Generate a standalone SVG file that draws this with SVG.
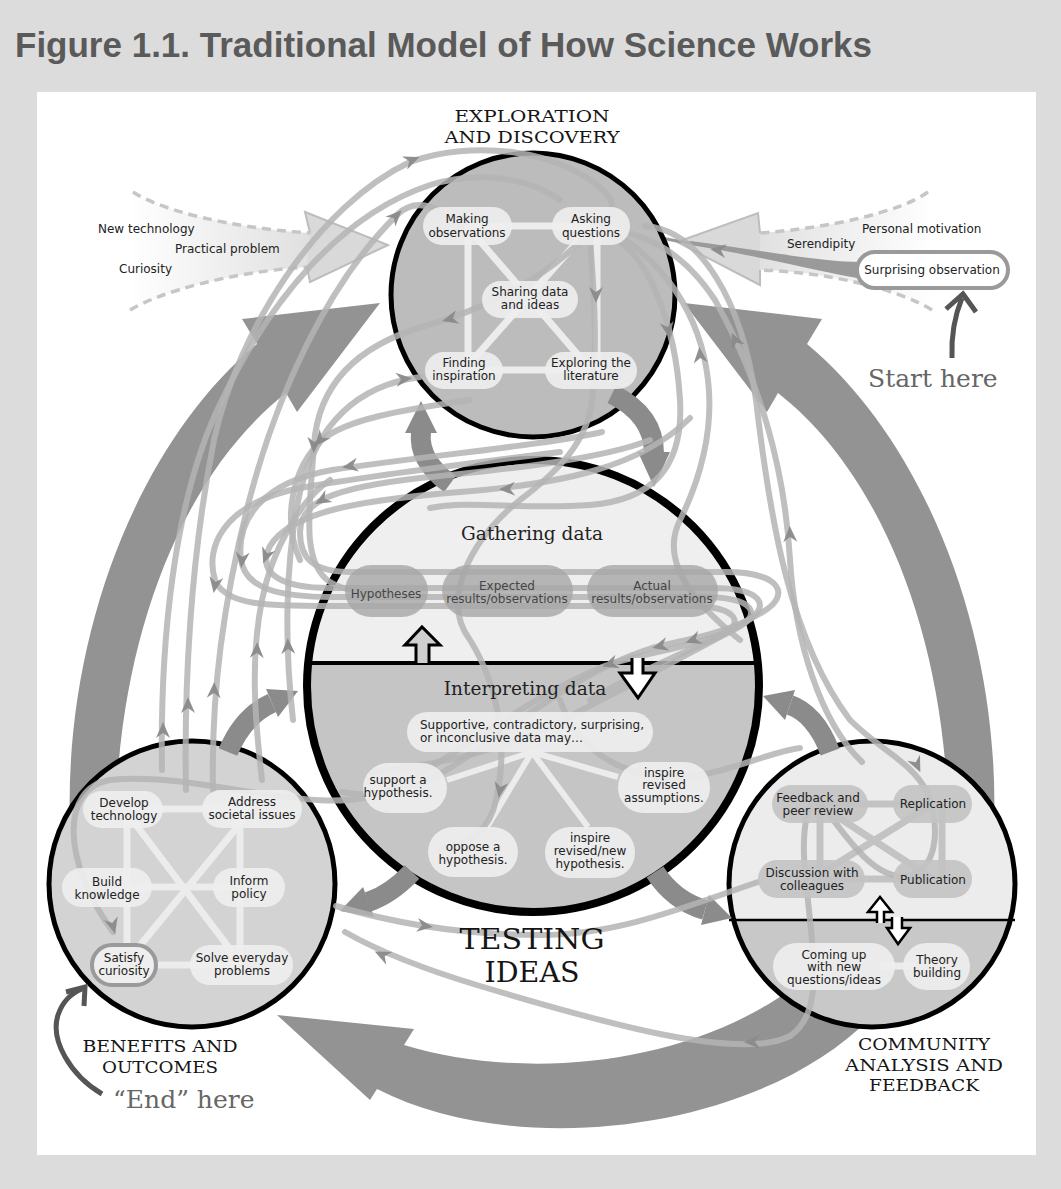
<svg xmlns="http://www.w3.org/2000/svg" width="1061" height="1189" viewBox="0 0 1061 1189">
<defs>
<style>
.title{font-family:"Liberation Sans",Arial,sans-serif;font-weight:bold;font-size:35px;fill:#5a5a5a}
.sec{font-family:"DejaVu Serif",serif;font-size:17.5px;fill:#151515;text-anchor:middle}
.big{font-family:"DejaVu Serif",serif;font-size:28px;fill:#151515;text-anchor:middle}
.sub{font-family:"DejaVu Serif",serif;font-size:18.5px;fill:#222;text-anchor:middle}
.hint{font-family:"DejaVu Serif",serif;font-size:25px;fill:#666}
.t{font-family:"DejaVu Sans",sans-serif;font-size:12px;fill:#222;text-anchor:middle}
.tb{font-family:"DejaVu Sans",sans-serif;font-size:12px;fill:#454545;text-anchor:middle}
.tl{font-family:"DejaVu Sans",sans-serif;font-size:12px;fill:#222}
.pl{fill:#eeeeee;opacity:.9}
.pd{fill:#c3c3c3;opacity:.9}
.pb{fill:#a6a6a6;opacity:.8}
.ln{stroke:#ececec;stroke-width:7;fill:none}
.lnd{stroke:#c3c3c3;stroke-width:7;fill:none}
.ring{fill:none;stroke:#000;stroke-width:5}
.cyc{fill:#939393}
.mid{fill:none;stroke:#8b8b8b;stroke-width:20}
.midh{fill:#8b8b8b}
.flow{fill:none;stroke:#b4b4b4;stroke-width:6;stroke-linecap:round;opacity:.85}
.ah{fill:#8a8a8a;opacity:.95}
.hol{stroke:#000;stroke-width:3;stroke-linejoin:miter}
.dash{fill:none;stroke:#c6c6c6;stroke-width:3.5;stroke-dasharray:9 6}
.barb{fill:#d9d9d9;stroke:#bdbdbd;stroke-width:2}
</style>
<linearGradient id="fanL" x1="130" y1="0" x2="390" y2="0" gradientUnits="userSpaceOnUse"><stop offset="0" stop-color="#ffffff"/><stop offset="1" stop-color="#d2d2d2"/></linearGradient>
<linearGradient id="fanR" x1="935" y1="0" x2="675" y2="0" gradientUnits="userSpaceOnUse"><stop offset="0" stop-color="#ffffff"/><stop offset="1" stop-color="#d2d2d2"/></linearGradient>
<path id="ah" d="M8,0 L-8,-7 L-3,0 L-8,7 Z"/>
<clipPath id="cc"><circle cx="533" cy="686" r="226"/></clipPath>
<clipPath id="rc"><circle cx="872" cy="884" r="143"/></clipPath>
</defs>

<!-- page -->
<rect x="0" y="0" width="1061" height="1189" fill="#dcdcdc"/>
<text class="title" x="15" y="57">Figure 1.1. Traditional Model of How Science Works</text>
<rect x="37" y="92" width="999" height="1063" fill="#ffffff"/>

<!-- incoming influences, left -->
<g id="inputs-left">
<path d="M133,192 C160,210 230,228 310,233 L305,212 L388,245 L310,282 L307,267 C230,272 160,292 130,310 Z" fill="url(#fanL)"/>
<path class="barb" d="M310,233 L305,212 L388,245 L310,282 L307,267"/>
<path class="dash" d="M133,192 C160,210 230,228 310,233"/>
<path class="dash" d="M130,310 C160,292 230,272 307,267"/>
<text class="tl" x="98" y="233">New technology</text>
<text class="tl" x="175" y="253">Practical problem</text>
<text class="tl" x="119" y="273">Curiosity</text>
</g>

<!-- incoming influences, right -->
<g id="inputs-right">
<path d="M928,192 C900,212 830,228 760,233 L758,213 L677,242 L760,285 L760,270 C830,272 900,290 932,310 Z" fill="url(#fanR)"/>
<path class="barb" d="M760,233 L758,213 L677,242 L760,285 L760,270"/>
<path class="dash" d="M928,192 C900,212 830,228 760,233"/>
<path class="dash" d="M932,310 C900,290 830,272 760,270"/>
<path d="M862,262 C820,262 760,250 690,241 L690,245 C760,256 820,272 862,279 Z" fill="#9a9a9a"/>
<path d="M690,243 C668,240 650,236 630,230" fill="none" stroke="#9a9a9a" stroke-width="3"/>
<use href="#ah" class="ah" transform="translate(718,250) rotate(188)"/>
<text class="tl" x="862" y="233">Personal motivation</text>
<text class="tl" x="787" y="248">Serendipity</text>
</g>

<!-- main cycle -->
<g id="cycle">
<path class="cyc" d="M72,860 C55,660 130,450 257,344 L242,319 L380,303 L297,412 L286,393 C175,480 110,660 116,860 Z"/>
<path class="cyc" d="M992,860 C1009,660 934,450 807,344 L822,319 L684,303 L767,412 L778,393 C889,480 954,660 948,860 Z"/>
<path class="cyc" d="M404,1045 C520,1080 680,1068 790,990 L870,1018 C760,1130 520,1162 377,1089 L370,1100 L277,1015 L414,1029 Z"/>
</g>

<!-- stage discs -->
<g id="discs">
<circle cx="533" cy="295" r="142" fill="#bcbcbc"/>
<circle cx="533" cy="686" r="226" fill="#c5c5c5"/>
<rect x="300" y="455" width="470" height="208" fill="#efefef" clip-path="url(#cc)"/>
<line x1="307" y1="663" x2="759" y2="663" stroke="#000" stroke-width="4"/>
<circle cx="192" cy="884" r="143" fill="#d3d3d3"/>
<circle cx="872" cy="884" r="143" fill="#c8c8c8"/>
<rect x="725" y="735" width="295" height="185" fill="#ececec" clip-path="url(#rc)"/>
<line x1="729" y1="920" x2="1015" y2="920" stroke="#000" stroke-width="2.5"/>
<path class="ln" d="M467,226 H591 M468,226 V370 M597,226 V370 M464,370 H591 M467,226 L591,370 M591,226 L464,370"/>
<path class="ln" d="M532,752 L447,780 M532,752 L487,827 M532,752 L588,827 M532,752 L618,777" style="stroke-width:6"/>
<path class="ln" d="M124,809 H252 M127,809 V965 M240,809 V965 M107,887 H249 M124,965 H242 M124,809 L242,965 M252,809 L124,965"/>
<path class="lnd" d="M818,804 H933 M820,804 V879 M942,804 V879 M812,879 H933 M818,804 L933,879 M812,879 L933,804"/>
<path class="ln" d="M880,966 H915"/>
<circle class="ring" cx="533" cy="295" r="142"/>
<circle class="ring" cx="533" cy="686" r="226" style="stroke-width:8"/>
<circle class="ring" cx="192" cy="884" r="143"/>
<circle class="ring" cx="872" cy="884" r="143"/>
</g>

<!-- links between stages -->
<g id="stage-links">
<path class="mid" d="M450,484 C428,468 419,450 421,432"/>
<polygon class="midh" points="405,433 421,401 437,433"/>
<path class="mid" d="M612,394 C640,408 654,428 654,453"/>
<polygon class="midh" points="638,452 654,487 670,452"/>
<path class="mid" d="M412,872 C395,890 380,898 368,902"/>
<polygon class="midh" points="363,887 340,911 374,917"/>
<path class="mid" d="M655,872 C670,895 688,905 705,910"/>
<polygon class="midh" points="709,895 732,918 701,925"/>
<path class="mid" d="M830,752 C820,725 805,710 790,705"/>
<polygon class="midh" points="795,690 763,696 785,720"/>
<path class="mid" d="M228,752 C238,728 252,712 272,703"/>
<polygon class="midh" points="266,689 298,691 278,717"/>
</g>

<!-- pathways through the process -->
<g id="connectors">
<path class="flow" d="M186,790 C184,690 190,560 214,440 C238,330 318,205 410,162 C470,140 560,148 605,192 C618,206 612,220 598,224"/>
<path class="flow" d="M213,790 C211,690 224,600 248,505 C276,395 328,282 398,214 C412,201 428,204 442,212"/>
<path class="flow" d="M162,770 C160,650 172,500 222,400 C270,300 340,215 430,185 C480,170 530,178 560,200"/>
<path class="flow" d="M586,236 C545,278 488,308 425,326 C352,347 318,388 314,445 C310,505 300,562 330,582 C345,591 362,593 390,593"/>
<path class="flow" d="M293,720 C285,650 284,565 300,492 C318,420 360,385 420,377"/>
<path class="flow" d="M690,418 C640,468 560,484 460,492 C360,500 290,512 270,546 C256,574 282,588 330,588 L712,588 C762,588 772,606 746,622 C702,648 642,652 602,667 C522,700 452,760 390,790 C322,822 200,770 110,780 C60,788 62,862 113,932"/>
<path class="flow" d="M650,440 C600,460 500,470 420,478 C332,488 300,502 300,532 C300,558 312,572 352,572 L726,572 C782,572 792,596 761,613 C722,636 682,640 652,648 C582,670 522,720 462,760 C422,788 382,800 342,792"/>
<path class="flow" d="M602,432 C540,446 422,456 332,470 C262,482 236,520 241,560 C246,590 282,597 332,597 L702,597 C756,597 762,615 737,628 C702,646 622,690 562,720 C512,746 452,764 372,772"/>
<path class="flow" d="M560,452 C480,462 380,474 300,488 C222,504 205,548 215,580 C225,606 270,606 330,606 L690,606 C740,606 745,625 720,636 C690,650 640,670 590,700"/>
<path class="flow" d="M606,234 C650,250 676,330 680,400 C684,470 650,500 590,505 C520,510 470,500 430,508"/>
<path class="flow" d="M590,240 C595,300 597,350 592,400 C588,440 560,470 520,500 C470,540 440,600 470,640 C495,680 510,740 496,800 C490,830 470,845 440,850"/>
<path class="flow" d="M620,236 C660,262 700,310 708,380 C714,430 700,480 680,520 C660,560 690,600 740,640"/>
<path class="flow" d="M862,762 C820,722 795,640 790,560 C785,470 760,380 715,300 C690,262 660,242 632,234"/>
<path class="flow" d="M645,226 C700,230 742,300 756,400 C770,520 790,640 850,720 C880,750 912,762 927,792 C942,832 936,872 906,876 C872,880 842,830 822,805 C808,790 800,830 806,880 C812,950 826,1012 790,1036 C740,1062 600,1022 480,986 C420,968 380,952 345,932"/>
<path class="flow" d="M336,906 C400,925 470,935 540,935 C620,935 690,905 758,882"/>
<path class="flow" d="M560,700 C580,760 640,785 700,775 C740,768 770,752 800,748"/>
<path class="flow" d="M470,400 C400,410 345,420 322,440 C292,468 282,520 300,560"/>
<path class="flow" d="M262,780 C255,720 250,660 262,600 C272,550 300,500 330,480"/>
<use href="#ah" class="ah" transform="translate(188,705) rotate(-90)"/>
<use href="#ah" class="ah" transform="translate(412,160) rotate(-22)"/>
<use href="#ah" class="ah" transform="translate(214,690) rotate(-88)"/>
<use href="#ah" class="ah" transform="translate(396,216) rotate(-45)"/>
<use href="#ah" class="ah" transform="translate(163,730) rotate(-90)"/>
<use href="#ah" class="ah" transform="translate(450,319) rotate(165)"/>
<use href="#ah" class="ah" transform="translate(314,445) rotate(93)"/>
<use href="#ah" class="ah" transform="translate(288,646) rotate(-92)"/>
<use href="#ah" class="ah" transform="translate(404,379) rotate(-5)"/>
<use href="#ah" class="ah" transform="translate(507,489) rotate(178)"/>
<use href="#ah" class="ah" transform="translate(266,556) rotate(110)"/>
<use href="#ah" class="ah" transform="translate(610,664) rotate(162)"/>
<use href="#ah" class="ah" transform="translate(113,926) rotate(75)"/>
<use href="#ah" class="ah" transform="translate(322,500) rotate(150)"/>
<use href="#ah" class="ah" transform="translate(660,646) rotate(165)"/>
<use href="#ah" class="ah" transform="translate(500,735) rotate(140)"/>
<use href="#ah" class="ah" transform="translate(350,466) rotate(170)"/>
<use href="#ah" class="ah" transform="translate(242,560) rotate(95)"/>
<use href="#ah" class="ah" transform="translate(693,640) rotate(160)"/>
<use href="#ah" class="ah" transform="translate(215,585) rotate(100)"/>
<use href="#ah" class="ah" transform="translate(668,330) rotate(80)"/>
<use href="#ah" class="ah" transform="translate(596,295) rotate(90)"/>
<use href="#ah" class="ah" transform="translate(500,790) rotate(100)"/>
<use href="#ah" class="ah" transform="translate(700,355) rotate(-95)"/>
<use href="#ah" class="ah" transform="translate(790,534) rotate(-92)"/>
<use href="#ah" class="ah" transform="translate(735,340) rotate(-115)"/>
<use href="#ah" class="ah" transform="translate(917,765) rotate(65)"/>
<use href="#ah" class="ah" transform="translate(752,1042) rotate(178)"/>
<use href="#ah" class="ah" transform="translate(382,955) rotate(205)"/>
<use href="#ah" class="ah" transform="translate(425,926) rotate(8)"/>
<use href="#ah" class="ah" transform="translate(320,440) rotate(130)"/>
<use href="#ah" class="ah" transform="translate(257,650) rotate(-88)"/>
</g>

<!-- exploration and discovery -->
<g id="making-observations"><rect class="pl" x="423" y="207" width="89" height="38" rx="19"/><text class="t" x="467" y="223">Making</text><text class="t" x="467" y="237">observations</text></g>
<g id="asking-questions"><rect class="pl" x="552" y="207" width="78" height="38" rx="19"/><text class="t" x="591" y="223">Asking</text><text class="t" x="591" y="237">questions</text></g>
<g id="sharing-data"><rect class="pl" x="482" y="281" width="96" height="37" rx="18.5"/><text class="t" x="530" y="296">Sharing data</text><text class="t" x="530" y="309">and ideas</text></g>
<g id="finding-inspiration"><rect class="pl" x="425" y="352" width="78" height="37" rx="18.5"/><text class="t" x="464" y="367">Finding</text><text class="t" x="464" y="380">inspiration</text></g>
<g id="exploring-literature"><rect class="pl" x="545" y="352" width="92" height="37" rx="18.5"/><text class="t" x="591" y="367">Exploring the</text><text class="t" x="591" y="380">literature</text></g>

<!-- testing ideas -->
<g id="gathering-data"><text class="sub" x="532" y="540">Gathering data</text></g>
<g id="hypotheses"><rect class="pb" x="345" y="565" width="83" height="52" rx="26"/><text class="tb" x="386" y="598">Hypotheses</text></g>
<g id="expected-results"><rect class="pb" x="442" y="565" width="131" height="52" rx="26"/><text class="tb" x="507" y="590">Expected</text><text class="tb" x="507" y="603">results/observations</text></g>
<g id="actual-results"><rect class="pb" x="587" y="565" width="131" height="52" rx="26"/><text class="tb" x="652" y="590">Actual</text><text class="tb" x="652" y="603">results/observations</text></g>
<g id="interpreting-data"><text class="sub" x="525" y="695">Interpreting data</text></g>
<g id="data-may"><rect class="pl" x="407" y="712" width="246" height="40" rx="20"/><text class="tl" x="420" y="729">Supportive, contradictory, surprising,</text><text class="tl" x="420" y="742">or inconclusive data may…</text></g>
<g id="support"><rect class="pl" x="363" y="763" width="84" height="50" rx="25"/><text class="t" x="398" y="784">support a</text><text class="t" x="398" y="797">hypothesis.</text></g>
<g id="oppose"><rect class="pl" x="428" y="827" width="90" height="50" rx="25"/><text class="t" x="473" y="851">oppose a</text><text class="t" x="473" y="864">hypothesis.</text></g>
<g id="revised-hypothesis"><rect class="pl" x="545" y="827" width="90" height="51" rx="25"/><text class="t" x="590" y="842">inspire</text><text class="t" x="590" y="855">revised/new</text><text class="t" x="590" y="868">hypothesis.</text></g>
<g id="revised-assumptions"><rect class="pl" x="618" y="762" width="92" height="51" rx="25"/><text class="t" x="664" y="777">inspire</text><text class="t" x="664" y="789">revised</text><text class="t" x="664" y="802">assumptions.</text></g>

<!-- benefits and outcomes -->
<g id="develop-technology"><rect class="pl" x="83" y="791" width="80" height="37" rx="18.5"/><text class="t" x="124" y="807">Develop</text><text class="t" x="124" y="820">technology</text></g>
<g id="address-issues"><rect class="pl" x="202" y="790" width="100" height="38" rx="19"/><text class="t" x="252" y="806">Address</text><text class="t" x="252" y="819">societal issues</text></g>
<g id="build-knowledge"><rect class="pl" x="62" y="868" width="90" height="39" rx="19.5"/><text class="t" x="107" y="886">Build</text><text class="t" x="107" y="899">knowledge</text></g>
<g id="inform-policy"><rect class="pl" x="213" y="868" width="72" height="39" rx="19.5"/><text class="t" x="249" y="885">Inform</text><text class="t" x="249" y="898">policy</text></g>
<g id="satisfy-curiosity"><rect class="pl" x="92" y="945" width="64" height="40" rx="20" stroke="#9a9a9a" stroke-width="4" style="opacity:1"/><text class="t" x="124" y="962">Satisfy</text><text class="t" x="124" y="975">curiosity</text></g>
<g id="solve-problems"><rect class="pl" x="190" y="945" width="103" height="40" rx="20"/><text class="t" x="242" y="962">Solve everyday</text><text class="t" x="242" y="975">problems</text></g>

<!-- community analysis and feedback -->
<g id="feedback"><rect class="pd" x="772" y="785" width="96" height="38" rx="19"/><text class="t" x="818" y="802">Feedback and</text><text class="t" x="818" y="815">peer review</text></g>
<g id="replication"><rect class="pd" x="893" y="785" width="79" height="38" rx="19"/><text class="t" x="933" y="808">Replication</text></g>
<g id="discussion"><rect class="pd" x="758" y="860" width="107" height="38" rx="19"/><text class="t" x="812" y="877">Discussion with</text><text class="t" x="812" y="890">colleagues</text></g>
<g id="publication"><rect class="pd" x="893" y="860" width="79" height="38" rx="19"/><text class="t" x="933" y="884">Publication</text></g>
<g id="new-questions"><rect class="pl" x="773" y="943" width="122" height="47" rx="23.5"/><text class="t" x="834" y="959">Coming up</text><text class="t" x="834" y="971">with new</text><text class="t" x="834" y="984">questions/ideas</text></g>
<g id="theory-building"><rect class="pl" x="903" y="943" width="67" height="47" rx="23.5"/><text class="t" x="937" y="964">Theory</text><text class="t" x="937" y="977">building</text></g>

<!-- starting point -->
<g id="surprising-observation">
<rect x="857" y="252" width="151" height="36" rx="18" fill="#ffffff" stroke="#9a9a9a" stroke-width="4"/>
<text class="t" x="932" y="274">Surprising observation</text>
</g>

<!-- flow between the two halves -->
<g id="half-arrows">
<path class="hol" fill="#cfcfcf" d="M416,663 V645 H405 L422,627 L440,645 H429 V663"/>
<path class="hol" fill="#ffffff" d="M632,658 V673 H620 L638,698 L655,673 H643 V658"/>
<path class="hol" fill="#ffffff" style="stroke-width:2.5" d="M877,923 V912 H868 L880,897 L892,912 H884 V923"/>
<path class="hol" fill="#ffffff" style="stroke-width:2.5" d="M892,917 V928 H887 L898,944 L910,928 H902 V917"/>
</g>

<!-- stage names and reading hints -->
<g id="labels">
<text class="sec" x="532" y="122" textLength="155" lengthAdjust="spacingAndGlyphs">EXPLORATION</text>
<text class="sec" x="532" y="142.5" textLength="175" lengthAdjust="spacingAndGlyphs">AND DISCOVERY</text>
<text class="big" x="532" y="949" textLength="145" lengthAdjust="spacingAndGlyphs">TESTING</text>
<text class="big" x="532" y="982" textLength="95" lengthAdjust="spacingAndGlyphs">IDEAS</text>
<text class="sec" x="160" y="1052" textLength="155" lengthAdjust="spacingAndGlyphs">BENEFITS AND</text>
<text class="sec" x="160" y="1072.5" textLength="116" lengthAdjust="spacingAndGlyphs">OUTCOMES</text>
<text class="sec" x="924" y="1050" textLength="132" lengthAdjust="spacingAndGlyphs">COMMUNITY</text>
<text class="sec" x="924" y="1070.5" textLength="158" lengthAdjust="spacingAndGlyphs">ANALYSIS AND</text>
<text class="sec" x="924" y="1091" textLength="110" lengthAdjust="spacingAndGlyphs">FEEDBACK</text>
<text class="hint" x="868" y="387">Start here</text>
<text class="hint" x="113" y="1108">“End” here</text>
<path d="M952,358 C951,335 955,315 962,298" fill="none" stroke="#555" stroke-width="5"/>
<polyline points="946,309 963,294 976,312" fill="none" stroke="#555" stroke-width="5"/>
<path d="M102,1094 C70,1075 50,1040 58,1015 C63,1000 72,993 82,989" fill="none" stroke="#555" stroke-width="5"/>
<polyline points="66,992 85,987 84,1006" fill="none" stroke="#555" stroke-width="5"/>
</g>
</svg>
